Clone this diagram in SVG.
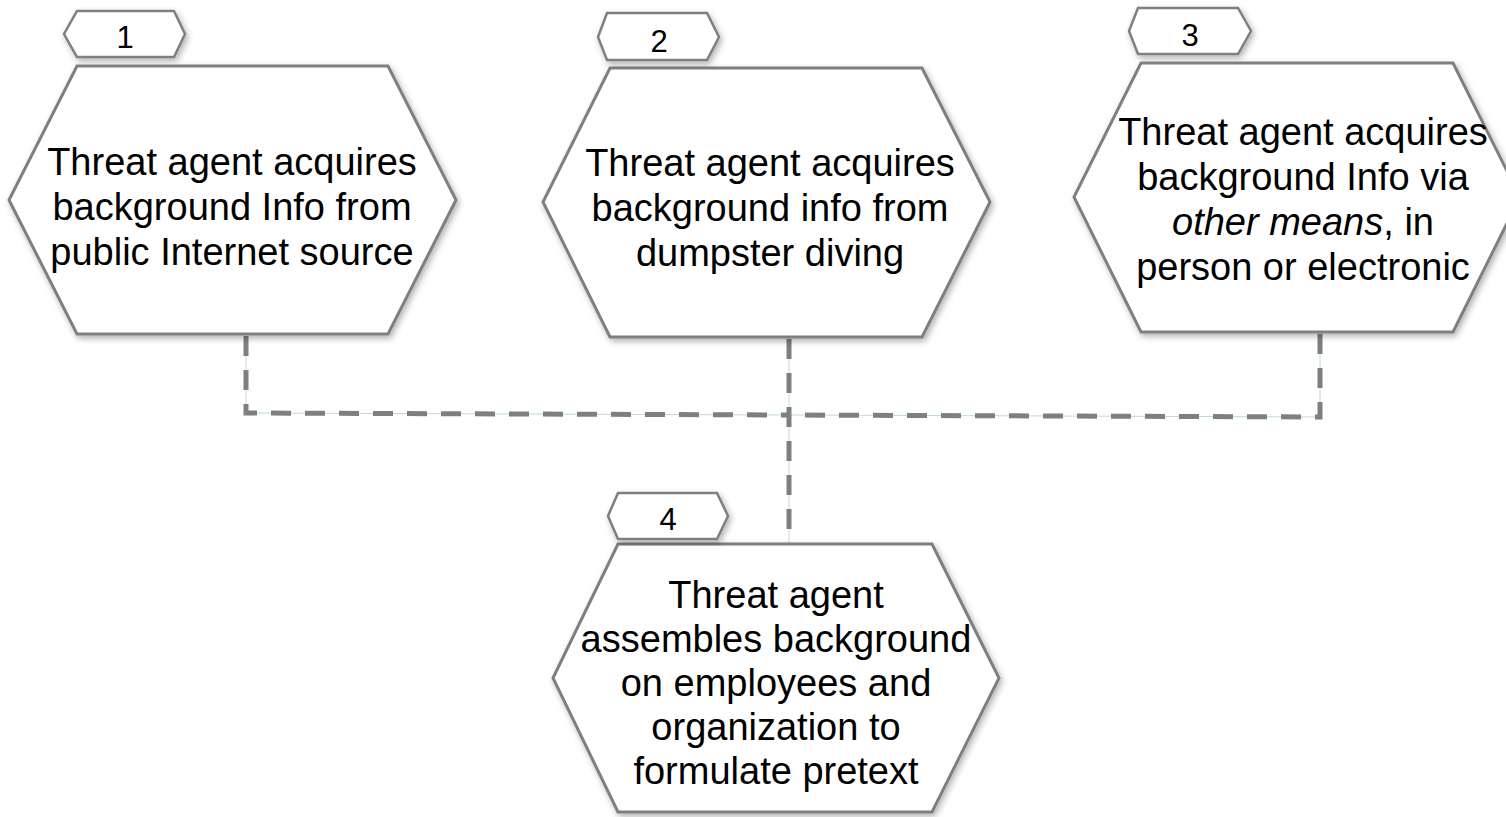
<svg xmlns="http://www.w3.org/2000/svg" width="1506" height="817" viewBox="0 0 1506 817">
<defs>
<filter id="sh" x="-10%" y="-10%" width="120%" height="125%">
<feDropShadow dx="2" dy="3" stdDeviation="3" flood-color="#000" flood-opacity="0.3"/>
</filter>
<style>
.hex{fill:#fff;stroke:#7f7f7f;stroke-width:3;filter:url(#sh)}
.tab{fill:#fff;stroke:#7f7f7f;stroke-width:2.5;filter:url(#sh)}
.t{font-family:"Liberation Sans",Arial,sans-serif;font-size:38px;fill:#000;text-anchor:middle}
.n{font-family:"Liberation Sans",Arial,sans-serif;font-size:31px;fill:#000;text-anchor:middle}
.hair{fill:none;stroke:#bcd8e6;stroke-width:1}
.dash{fill:none;stroke:#7f7f7f;stroke-width:5;stroke-dasharray:20 14}
</style>
</defs>
<rect width="1506" height="817" fill="#fff"/>
<g id="connectors">
<path class="hair" d="M246,334 L246,413 L789,415"/>
<path class="hair" d="M1320,332 L1320,417 L789,415"/>
<path class="hair" d="M789,337 L789,544"/>
<path class="dash" d="M246,336 L246,413 L789,415"/>
<path class="dash" d="M1320,334 L1320,417 L789,415"/>
<path class="dash" d="M789,339 L789,544"/>
</g>
<g id="node1">
<polygon class="hex" points="77,66 388,66 456,200 388,334 77,334 9,200"/>
<polygon class="tab" points="77,11 174,11 185,34 174,57 77,57 64,34"/>
<text class="n" x="125" y="48">1</text>
<text class="t" x="232" y="175">Threat agent acquires</text>
<text class="t" x="232" y="220">background Info from</text>
<text class="t" x="232" y="265">public Internet source</text>
</g>
<g id="node2">
<polygon class="hex" points="610,68 922,68 990,202 922,337 610,337 543,202"/>
<polygon class="tab" points="607,13 707,13 719,37 707,60 607,60 598,37"/>
<text class="n" x="659" y="52">2</text>
<text class="t" x="770" y="176">Threat agent acquires</text>
<text class="t" x="770" y="221">background info from</text>
<text class="t" x="770" y="266">dumpster diving</text>
</g>
<g id="node3">
<polygon class="hex" points="1141,63 1453,63 1520,197 1453,332 1141,332 1074,197"/>
<polygon class="tab" points="1138,8 1238,8 1251,31 1238,54 1138,54 1129,31"/>
<text class="n" x="1190" y="46">3</text>
<text class="t" x="1303" y="145">Threat agent acquires</text>
<text class="t" x="1303" y="190">background Info via</text>
<text class="t" x="1303" y="235"><tspan font-style="italic">other means</tspan>, in</text>
<text class="t" x="1303" y="280">person or electronic</text>
</g>
<g id="node4">
<polygon class="hex" points="618,544 932,544 999,678 932,812 618,812 553,678"/>
<polygon class="tab" points="618,493 717,493 728,516 717,539 618,539 608,516"/>
<text class="n" x="668" y="530">4</text>
<text class="t" x="776" y="608">Threat agent</text>
<text class="t" x="776" y="652">assembles background</text>
<text class="t" x="776" y="696">on employees and</text>
<text class="t" x="776" y="740">organization to</text>
<text class="t" x="776" y="784">formulate pretext</text>
</g>
</svg>
